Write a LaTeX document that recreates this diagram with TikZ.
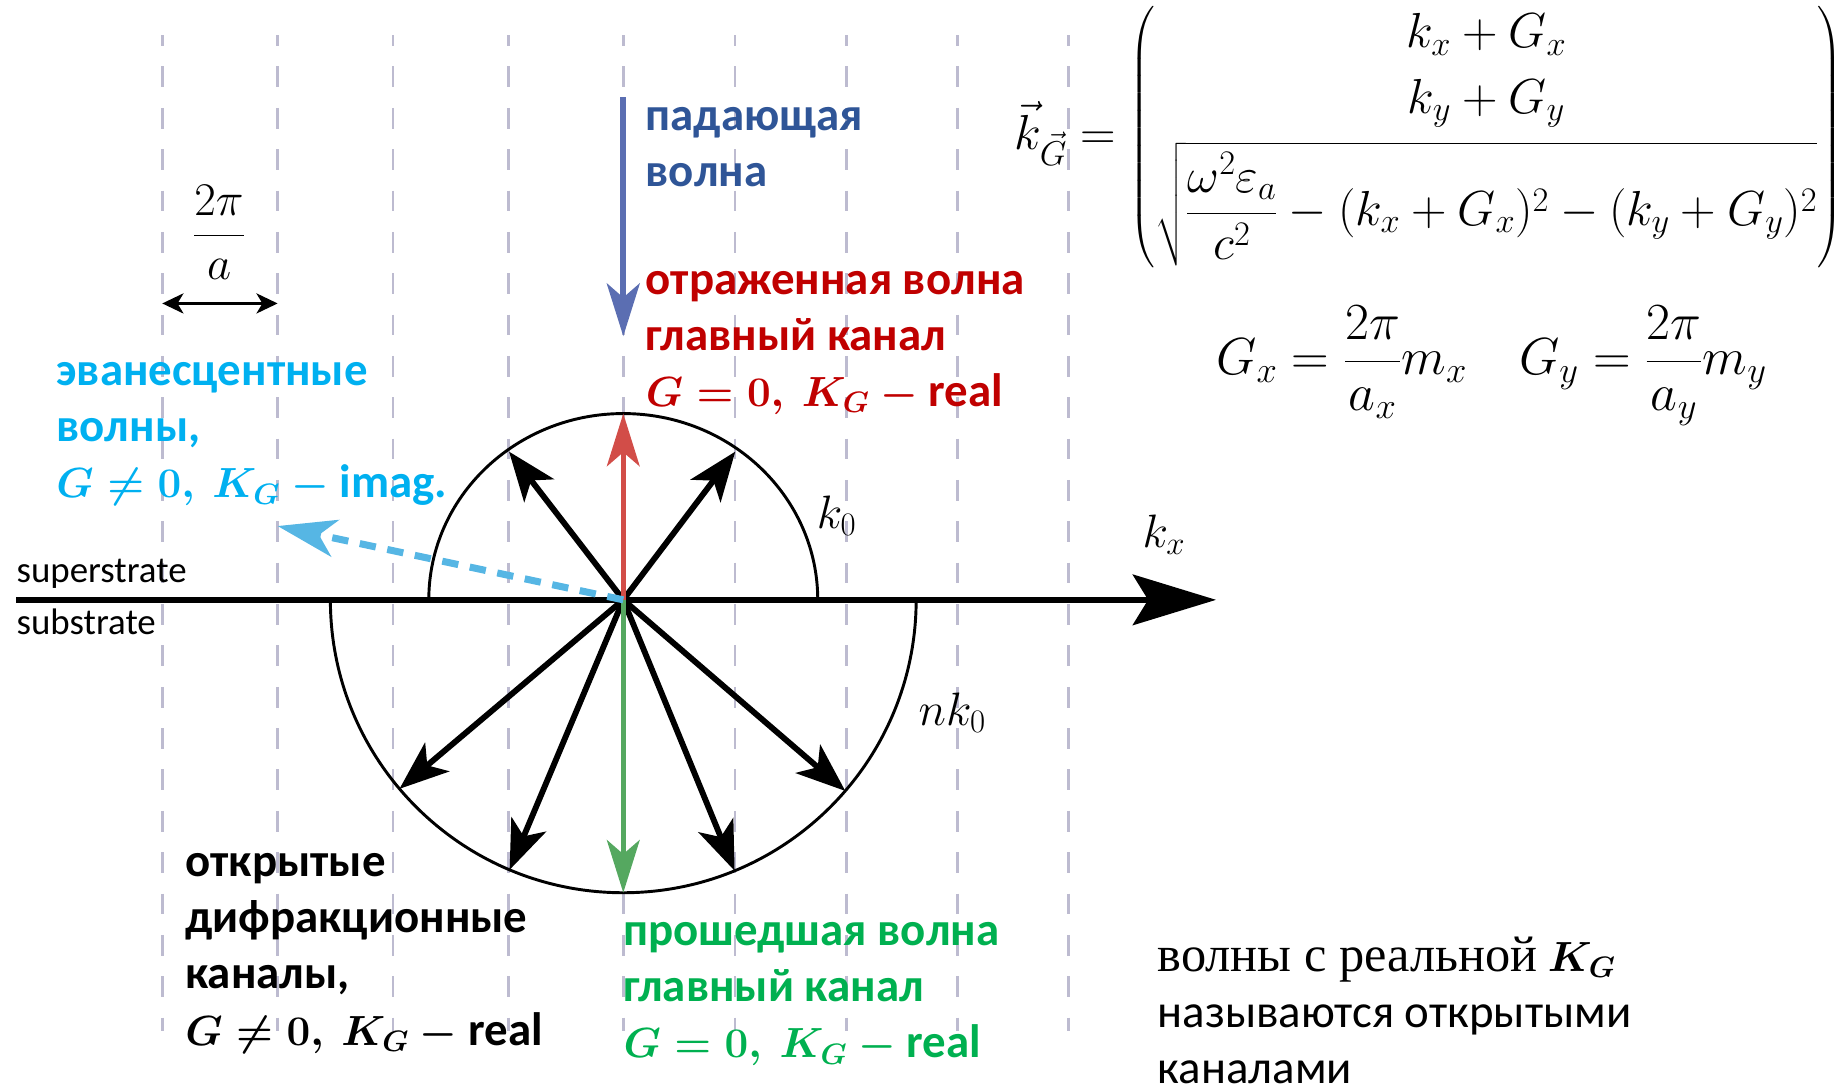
\RequirePackage{fix-cm}
\documentclass[tikz,border=0pt]{standalone}
\usepackage{amsmath}
\usepackage[no-math]{fontspec}
\setmainfont{Carlito}
\newfontfamily\serifru{Liberation Serif}
\usepackage{xcolor}
\usetikzlibrary{arrows.meta}
\definecolor{incb}{RGB}{91,110,178}
\definecolor{inct}{RGB}{47,85,151}
\definecolor{refr}{RGB}{210,77,72}
\definecolor{reft}{RGB}{192,0,0}
\definecolor{trg}{RGB}{85,168,96}
\definecolor{trt}{RGB}{0,176,80}
\definecolor{evb}{RGB}{86,182,228}
\definecolor{evt}{RGB}{0,176,240}
\definecolor{gridc}{RGB}{189,187,208}
\newcommand{\kmath}[1]{{\fontsize{36}{48}\selectfont\boldmath$#1$}}
\tikzset{
  lbl/.style  = {anchor=base west, align=left, inner sep=0pt,
                 font=\fontsize{40}{48}\selectfont\bfseries},
  sml/.style  = {anchor=base west, inner sep=0pt, font=\fontsize{31.5}{37}\selectfont},
  mth/.style  = {inner sep=0pt, font=\fontsize{40}{48}\selectfont},
  grd/.style  = {draw=gridc, line width=2.3pt, dash pattern=on 17.7pt off 17.6pt,
                 dash phase=8.6pt},
  rim/.style  = {draw=black, line width=2.5pt},
  fl/.style   = {-{Stealth[length=42pt, width=32pt, inset=11pt]}, line width=5pt},
  cfl/.style  = {-{Stealth[length=45pt, width=28pt, inset=12pt]}, line width=4pt},
  flb/.style  = {{Stealth[length=18pt, width=17pt, inset=5pt]}-{Stealth[length=18pt, width=17pt, inset=5pt]},
                 line width=3pt},
  kax/.style  = {-{Stealth[length=71pt, width=43pt, inset=13pt]}, line width=5.7pt},
  evfl/.style = {-{Stealth[length=50pt, width=32pt, inset=14pt]}, line width=6pt, draw=evb,
                 dash pattern=on 14pt off 10pt},
}

\begin{document}
\begin{tikzpicture}[x=1pt, y=-1pt]
  \useasboundingbox (0,0) rectangle (1568,927);
  \clip (0,0) rectangle (1568,927);
  \foreach \gx in {138.5,237,335.4,433.9,532,627.4,722.7,817.1,911.8}
    \draw[grd] (\gx,30) -- (\gx,880);

  \coordinate (O)   at (532,512);
  \coordinate (axL) at (14,512);
  \coordinate (axR) at (1038,512);
  \coordinate (u1)  at (434.5,385.5);
  \coordinate (u2)  at (627.6,385.5);
  \coordinate (up)  at (532,353);
  \coordinate (d1)  at (341,673.3);
  \coordinate (d2)  at (435,742.4);
  \coordinate (dn)  at (532,762);
  \coordinate (d4)  at (627,743.2);
  \coordinate (d5)  at (721.5,675.1);
  \coordinate (ev)  at (237,449);
  \coordinate (in0) at (532,83);
  \coordinate (in1) at (532,287);
  \coordinate (pL)  at (138.5,259);
  \coordinate (pR)  at (237,259);

  \draw[rim] (366,512) arc[start angle=180, end angle=360, x radius=166, y radius=159];
  \draw[rim] (282,512) arc[start angle=180, end angle=0, radius=250];
  \draw[kax] (axL) -- (axR);

  \foreach \t in {u1,u2,d1,d2,d4,d5}
    \draw[fl] (O) -- (\t);
  \draw[cfl, refr] (O) -- (up);
  \draw[cfl, trg] (O) -- (dn);
  \draw[evfl] (O) -- (ev);
  \draw[cfl, incb, line width=5.5pt] (in0) -- (in1);
  \draw[flb] (pL) -- (pR);

  \node[mth] (per) at (187,198) {$\dfrac{2\pi}{a}$};
  \node[mth, anchor=base west] (k0) at (697,451) {$k_0$};
  \node[mth, anchor=base west] (nk0) at (784,619) {$nk_0$};
  \node[mth, anchor=base west] (kx) at (975,467) {$k_x$};

  \node[mth, anchor=west, font=\fontsize{42}{48}\selectfont] (kG) at (866,117)
    {$\vec{k}_{\vec{G}} = \begin{pmatrix} k_x+G_x\\[8pt] k_y+G_y\\[10pt]
      \sqrt{\dfrac{\omega^2\varepsilon_a}{c^2}-(k_x+G_x)^2-(k_y+G_y)^2}\end{pmatrix}$};
  \node[mth, anchor=west, font=\fontsize{44.5}{50}\selectfont] (Gxy) at (1038,312)
    {$\displaystyle G_x=\frac{2\pi}{a_x}m_x \quad G_y=\frac{2\pi}{a_y}m_y$};

  \node[lbl, text=inct] (inc) at (551,159) {падающая\\волна};
  \node[lbl, text=reft] (refl) at (551,347)
    {отраженная волна\\главный канал\\\kmath{G = 0,\ K_G - {}}real};
  \node[lbl, text=evt] (evan) at (48,425)
    {эванесцентные\\волны,\\\kmath{G \neq 0,\ K_G - {}}imag.};
  \node[lbl] (open) at (158,892)
    {открытые\\дифракционные\\каналы,\\\kmath{G \neq 0,\ K_G - {}}real};
  \node[lbl, text=trt] (trans) at (532,903)
    {прошедшая волна\\главный канал\\\kmath{G = 0,\ K_G - {}}real};
  \node[lbl, font=\fontsize{40}{48}\selectfont] (note) at (988,925)
    {{\serifru\fontsize{43}{48}\selectfont волны с реальной} \kmath{K_G}\\называются открытыми\\каналами};

  \node[sml] (sup) at (14,497.6) {superstrate};
  \node[sml] (sub) at (14,542) {substrate};
\end{tikzpicture}
\end{document}
